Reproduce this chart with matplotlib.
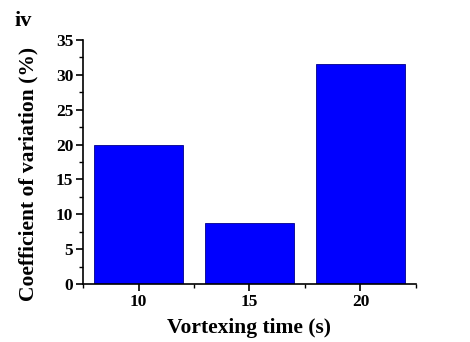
import numpy as np
import matplotlib.pyplot as plt
from matplotlib.ticker import MultipleLocator, FixedLocator

# data
times = ['10', '15', '20']
cv = [20.0, 8.8, 31.5]

plt.rcParams['font.family'] = 'Liberation Serif'
plt.rcParams['font.weight'] = 'bold'

fig = plt.figure(figsize=(4.7, 3.42), dpi=100)
ax = fig.add_axes([0.1766, 0.1696, 0.7085, 0.7134])

x = np.arange(len(times))
ax.bar(x, cv, width=0.8, color='#0000FF', edgecolor='#00008B', linewidth=0.6)

ax.set_xlim(-0.5, 2.5)
ax.set_ylim(0, 35)
ax.set_xticks(x)
ax.set_xticklabels(times)
ax.xaxis.set_minor_locator(FixedLocator([-0.5, 0.5, 1.5, 2.5]))
ax.yaxis.set_major_locator(MultipleLocator(5))
ax.yaxis.set_minor_locator(MultipleLocator(2.5))

for s in ['top', 'right']:
    ax.spines[s].set_visible(False)
for s in ['left', 'bottom']:
    ax.spines[s].set_linewidth(1.2)

ax.tick_params(which='major', direction='out', length=5, width=1.2, labelsize=12.5, pad=2)
ax.tick_params(which='minor', direction='out', length=3, width=1.0)

ax.set_xlabel('Vortexing time (s)', fontsize=15.5, fontweight='bold', labelpad=6)
ax.set_ylabel('Coefficient of variation (%)', fontsize=15.5, fontweight='bold')
ax.yaxis.set_label_coords(-0.135, 0.45)

fig.text(0.03, 0.925, 'iv', fontsize=16, fontweight='bold')

fig.savefig('out.png', dpi=100)
